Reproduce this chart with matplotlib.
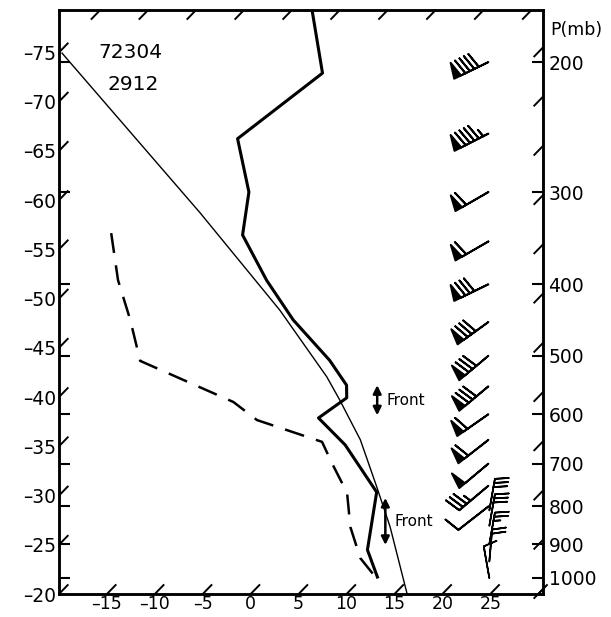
import numpy as np
import matplotlib
matplotlib.use('Agg')
import matplotlib.pyplot as plt
from matplotlib.ticker import FixedLocator, NullFormatter, NullLocator

# ---------------- data ----------------
# environmental temperature sounding (thick solid)
temp_p = [170, 207, 254, 300, 343, 395, 447, 507, 548, 570, 607, 660, 765, 916, 997]
temp_T = [-52.9, -45.4, -47.6, -41.0, -37.3, -30.2, -23.4, -15.5, -11.2, -9.9,
          -10.8, -5.3, 2.8, 7.7, 11.5]
# dew point (dashed)
dew_p = [341, 395, 447, 508, 577.5, 611, 654, 699, 767, 853, 940, 997]
dew_T = [-51.2, -45.7, -40.4, -35.2, -21.3, -17.0, -8.0, -4.8, -0.2, 3.6, 7.8, 11.3]
# reference adiabat (thin solid)
adiab_p = [194.5, 320, 433.5, 534, 574, 650, 753, 853, 1048]
adiab_T = [-74.6, -44.0, -25.8, -14.1, -10.4, -4.2, 2.3, 7.75, 16.2]

# winds (direction from, deg; speed kt)
wind_p = [200, 250, 300, 350, 400, 450, 500, 550, 600, 650, 700, 750, 800]
wind_dir = [244, 243, 240, 240, 244, 234, 230, 230, 235, 232, 230, 230, 232]
wind_spd = [90, 95, 60, 60, 80, 80, 80, 80, 60, 60, 50, 35, 10]
low_p = [1000, 950, 900, 850, 810]
low_dir = [350, 5, 10, 10, 10]
low_spd = [10, 20, 25, 30, 30]

# frontal layers (mb)
front_top = [548, 779]
front_bot = [602, 902]

press_levels = [200, 300, 400, 500, 600, 700, 800, 900, 1000]
iso_labels = list(range(-75, -15, 5))
bottom_labels = list(range(-15, 30, 5))
station = "72304"
dtg = "2912"

# ---------------- diagram geometry ----------------
P_BOT, P_TOP = 1051.2, 170.0
XL, XR = -20.0, 30.5
K = 32.55  # skew (deg C per ln p)


def skx(T, p):
    return np.asarray(T, float) + K * np.log(P_BOT / np.asarray(p, float))


fig = plt.figure(figsize=(6.11, 6.17), dpi=100)
ax = fig.add_axes([59 / 611, 1 - 594 / 617, 484 / 611, 584 / 617])
ax.set_yscale('log')
ax.set_ylim(P_BOT, P_TOP)
ax.set_xlim(XL, XR)

FS = 13.5
FAM = 'DejaVu Sans'

# curves
ax.plot(skx(adiab_T, adiab_p), adiab_p, color='k', lw=1.0)
ax.plot(skx(temp_T, temp_p), temp_p, color='k', lw=2.2)
ax.plot(skx(dew_T, dew_p), dew_p, color='k', lw=1.8, dashes=(8, 5))

# isotherm tick segments along the frame
lnmax = np.log(P_BOT / P_TOP)
d = 0.03
for T in range(-100, 65, 5):
    segs = []
    if XL <= T <= XR:
        segs.append((0.0, d))
    if XL <= T + K * lnmax <= XR:
        segs.append((lnmax - d, lnmax))
    l = (XL - T) / K
    if 0 < l < lnmax:
        segs.append((l, l + d))
    r = (XR - T) / K
    if 0 < r < lnmax:
        segs.append((r - d, r))
    for a, b in segs:
        ln = np.array([a, b])
        ax.plot(T + K * ln, P_BOT * np.exp(-ln), color='k', lw=1.4,
                solid_capstyle='butt', clip_on=False)

# left axis: isotherm labels + inward pressure ticks
iso_p = [P_BOT * np.exp(-max(XL - T, 0) / K) for T in iso_labels]
ax.set_yticks(iso_p)
ax.set_yticklabels([f'{T}'.replace('-', '\u2013') for T in iso_labels])
ax.yaxis.set_minor_locator(FixedLocator(press_levels))
ax.yaxis.set_minor_formatter(NullFormatter())
ax.tick_params(axis='y', which='major', length=0, pad=2, labelsize=FS)
ax.tick_params(axis='y', which='minor', length=8, width=1.5, direction='in')

# bottom axis
ax.set_xticks(bottom_labels)
ax.set_xticklabels([f'{T}'.replace('-', '\u2013') for T in bottom_labels])
ax.tick_params(axis='x', length=0, pad=1, labelsize=12.5)

# right axis: pressure
ax2 = ax.twinx()
ax2.set_yscale('log')
ax2.set_ylim(P_BOT, P_TOP)
ax2.set_yticks(press_levels)
ax2.set_yticklabels([str(p) for p in press_levels])
ax2.yaxis.set_minor_locator(NullLocator())
ax2.tick_params(axis='y', which='major', direction='in', length=8, width=1.5,
                pad=4, labelsize=FS)

for a in (ax, ax2):
    for s in a.spines.values():
        s.set_linewidth(1.8)

# winds
wd = np.deg2rad(wind_dir)
ws = np.asarray(wind_spd, float)
sizes = dict(spacing=0.13, height=0.42, width=0.2, emptybarb=0.0)
ax.barbs(np.full(len(wind_p), 24.8), wind_p, -ws * np.sin(wd), -ws * np.cos(wd),
         length=7.4, pivot='tip', sizes=sizes, linewidth=1.4, color='k')
lwd = np.deg2rad(low_dir)
lws = np.asarray(low_spd, float)
ax.barbs(np.full(len(low_p), 24.9), low_p, -lws * np.sin(lwd), -lws * np.cos(lwd),
         length=6.8, pivot='tip', sizes=sizes, linewidth=1.2, color='k')

# fronts
front_x = [13.2, 14.05]
for x, pt, pb in zip(front_x, front_top, front_bot):
    ax.annotate('', xy=(x, pt), xytext=(x, pb),
                arrowprops=dict(arrowstyle='<|-|>', lw=1.8, color='k',
                                mutation_scale=12, shrinkA=0, shrinkB=0))
    ax.text(x + 1.0, np.sqrt(pt * pb), 'Front', fontsize=11, ha='left',
            va='center', family=FAM)

ax.text(0.147, 0.928, station, transform=ax.transAxes, fontsize=14.5,
        ha='center', va='center', family=FAM)
ax.text(0.153, 0.872, dtg, transform=ax.transAxes, fontsize=14.5,
        ha='center', va='center', family=FAM)
fig.text(0.944, 0.951, 'P(mb)', fontsize=12.5, ha='center', va='center',
         family=FAM)

fig.savefig('out.png', dpi=100)
